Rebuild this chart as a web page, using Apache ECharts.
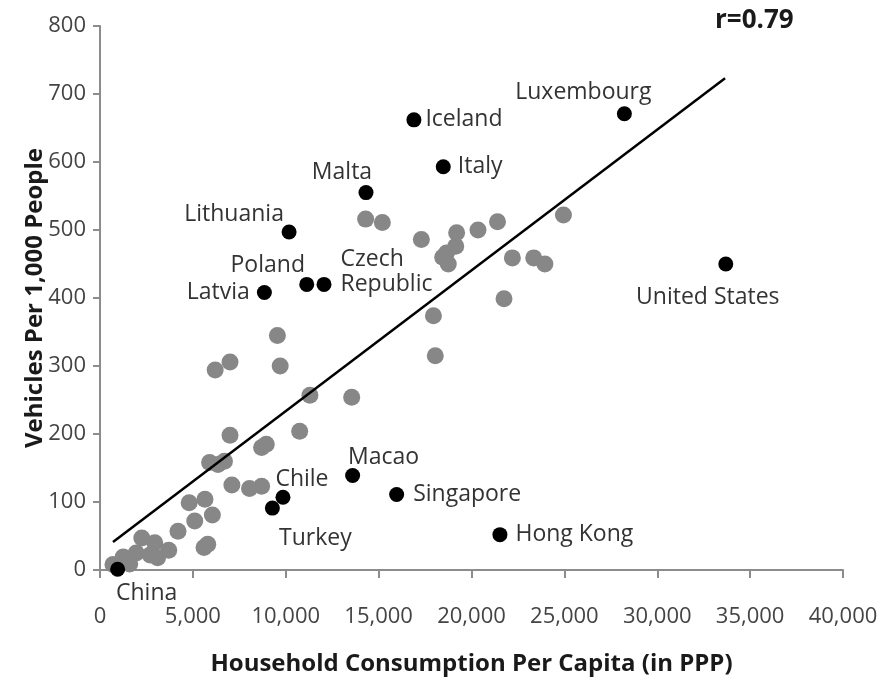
<!DOCTYPE html>
<html>
<head>
<meta charset="utf-8">
<script src="https://cdn.jsdelivr.net/npm/echarts@6/dist/echarts.min.js"></script>
<style>html,body{margin:0;padding:0;background:#fff}#c{width:884px;height:681px}</style>
</head>
<body>
<div id="c"></div>
<script>
// ---- data ----
const xTicks = [0, 5000, 10000, 15000, 20000, 25000, 30000, 35000, 40000];
const yTicks = [0, 100, 200, 300, 400, 500, 600, 700, 800];

const otherX = [700, 1250, 1600, 1950, 2250, 2700, 2950, 3100, 3700, 4200, 4800, 5100, 5650, 6050, 5600, 5800, 5900, 6350, 6700, 7000, 7100, 8050, 8700, 8700, 8950, 10750, 11300, 13550, 6200, 7000, 9550, 9700, 14300, 15200, 17300, 18450, 18650, 18750, 19150, 19200, 20350, 21400, 22200, 23350, 23950, 24950, 21750, 17950, 18050];
const otherY = [8, 19, 9, 25, 47, 22, 40, 18, 29, 57, 99, 72, 104, 81, 33, 38, 158, 155, 160, 198, 125, 120, 123, 180, 185, 204, 257, 254, 294, 306, 345, 300, 516, 511, 486, 460, 466, 450, 476, 496, 500, 512, 459, 459, 450, 522, 399, 374, 315];

const namedCountries = ["China", "Chile", "Turkey", "Macao", "Singapore", "Hong Kong", "Iceland", "Italy", "Malta", "Luxembourg", "United States", "Lithuania", "Poland", "Czech\nRepublic", "Latvia"];
const namedX = [950, 9850, 9280, 13600, 15970, 21530, 16900, 18480, 14320, 28230, 33690, 10180, 11130, 12060, 8850];
const namedY = [1, 107, 91, 139, 111, 52, 662, 593, 555, 671, 450, 497, 420, 420, 408];

const trendX = [700, 33650];
const trendY = [41, 723];

const rLabel = "r=0.79";
const xTitle = "Household Consumption Per Capita (in PPP)";
const yTitle = "Vehicles Per 1,000 People";

// ---- label placement (style) ----
const FONT = "Open Sans";
const placement = {
  "China": {position: "inside", offset: [29, 24]},
  "Chile": {position: "inside", offset: [19, -18]},
  "Turkey": {position: "inside", offset: [43, 30]},
  "Macao": {position: "inside", offset: [31, -18]},
  "Singapore": {position: "right", distance: 9},
  "Hong Kong": {position: "right", distance: 8},
  "Iceland": {position: "right", distance: 4},
  "Italy": {position: "right", distance: 7},
  "Malta": {position: "inside", offset: [-24, -20]},
  "Luxembourg": {position: "inside", offset: [-41, -21]},
  "United States": {position: "inside", offset: [-18, 33]},
  "Lithuania": {position: "inside", offset: [-55, -18]},
  "Poland": {position: "inside", offset: [-39, -19]},
  "Czech\nRepublic": {position: "right", distance: 9, offset: [0, -12], align: "left"},
  "Latvia": {position: "left", distance: 7}
};

const otherData = otherX.map((x, i) => [x, otherY[i]]);
const namedData = namedCountries.map((n, i) => {
  const p = placement[n] || {position: "right"};
  return {
    name: n,
    value: [namedX[i], namedY[i]],
    label: Object.assign({show: true, formatter: "{b}"}, p)
  };
});
const trendData = trendX.map((x, i) => [x, trendY[i]]);

const chart = echarts.init(document.getElementById("c"), null, {renderer: "canvas"});
chart.setOption({
  animation: false,
  backgroundColor: "#ffffff",
  title: {
    text: rLabel,
    left: 710, top: 3,
    textStyle: {fontFamily: FONT, fontWeight: "bold", fontSize: 26, color: "#1a1a1a"}
  },
  grid: {left: 100, right: 41, top: 26, bottom: 105.5, containLabel: false},
  xAxis: {
    type: "value", min: xTicks[0], max: xTicks[xTicks.length - 1], interval: 5000,
    name: xTitle, nameLocation: "middle", nameGap: 82,
    nameTextStyle: {fontFamily: FONT, fontWeight: "bold", fontSize: 24, color: "#1a1a1a"},
    axisLine: {show: true, lineStyle: {color: "#8c8c8c", width: 2}},
    axisTick: {show: true, inside: false, length: 8, lineStyle: {color: "#8c8c8c", width: 2}},
    axisLabel: {
      fontFamily: FONT, fontSize: 22, color: "#444", margin: 36,
      formatter: v => v.toLocaleString("en-US")
    },
    splitLine: {show: false}
  },
  yAxis: {
    type: "value", min: yTicks[0], max: yTicks[yTicks.length - 1], interval: 100,
    name: yTitle, nameLocation: "middle", nameGap: 53, nameRotate: 90, nameMoveOverlap: false,
    nameTextStyle: {fontFamily: FONT, fontWeight: "bold", fontSize: 24, color: "#1a1a1a"},
    axisLine: {show: true, lineStyle: {color: "#8c8c8c", width: 2}},
    axisTick: {show: true, inside: false, length: 7, lineStyle: {color: "#8c8c8c", width: 2}},
    axisLabel: {fontFamily: FONT, fontSize: 22, color: "#444", margin: 14},
    splitLine: {show: false}
  },
  series: [
    {
      type: "scatter", data: otherData, symbol: "circle", symbolSize: 17,
      itemStyle: {color: "#878787", opacity: 1}, z: 2
    },
    {
      type: "line", data: trendData, showSymbol: false, symbol: "none",
      lineStyle: {color: "#000", width: 2.5}, z: 3, silent: true
    },
    {
      type: "scatter", data: namedData, symbol: "circle", symbolSize: 15,
      itemStyle: {color: "#000", opacity: 1}, z: 4,
      label: {show: true, fontFamily: FONT, fontSize: 23, color: "#333", lineHeight: 25}
    }
  ]
});
</script>
</body>
</html>
